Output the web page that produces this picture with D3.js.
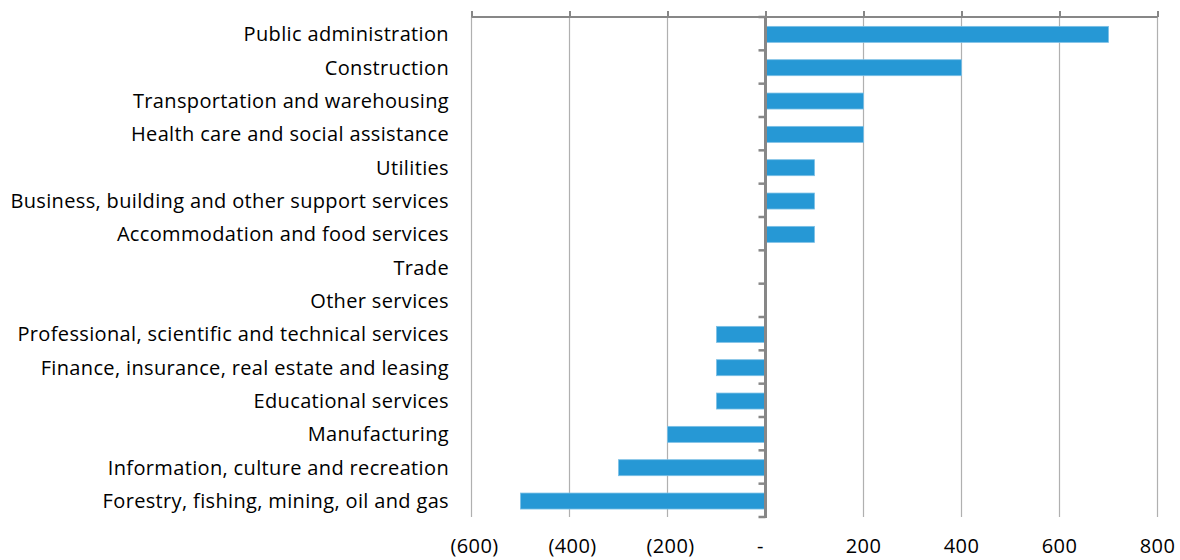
<!DOCTYPE html>
<html><head><meta charset="utf-8">
<script src="https://cdn.jsdelivr.net/npm/d3@7"></script>
<style>
html,body{margin:0;padding:0;background:#fff;}
svg{display:block;}
text{font-family:"Open Sans",Lato,sans-serif;fill:#000;letter-spacing:0.35px;}
</style></head>
<body><svg id="c" width="1180" height="560"></svg>
<script>
const categories = [
  "Public administration",
  "Construction",
  "Transportation and warehousing",
  "Health care and social assistance",
  "Utilities",
  "Business, building and other support services",
  "Accommodation and food services",
  "Trade",
  "Other services",
  "Professional, scientific and technical services",
  "Finance, insurance, real estate and leasing",
  "Educational services",
  "Manufacturing",
  "Information, culture and recreation",
  "Forestry, fishing, mining, oil and gas"
];
const values = [700, 400, 200, 200, 100, 100, 100, 0, 0, -100, -100, -100, -200, -300, -500];
const tickValues = [-600, -400, -200, 0, 200, 400, 600, 800];
const tickLabels = ["(600)", "(400)", "(200)", "-", "200", "400", "600", "800"];

const svg = d3.select("#c");
const x = d3.scaleLinear().domain([-600, 800]).range([471.5, 1157.5]);
const y = d3.scaleBand().domain(categories).range([17, 517]).paddingInner(0.52).paddingOuter(0.26);
const fontSize = 20;

// gridlines
svg.append("g").selectAll("line").data(tickValues.filter(d => d !== 0)).join("line")
  .attr("x1", d => x(d)).attr("x2", d => x(d))
  .attr("y1", 17).attr("y2", 517)
  .attr("stroke", "#b0b0b0").attr("stroke-width", 1.2);

// top value axis
const topAxis = d3.axisTop(x).tickValues(tickValues).tickSize(6).tickFormat("");
const gt = svg.append("g").attr("transform", "translate(0,17)").call(topAxis);
gt.select(".domain").attr("stroke", "#878787").attr("stroke-width", 2).attr("d", `M${x(-600)},0H${x(800)}`);
gt.selectAll(".tick line").attr("stroke", "#878787").attr("stroke-width", 2);

// bottom tick labels
const labelShift = v => v < 0 ? 3 : (v === 0 ? -5 : 0);
svg.append("g").selectAll("text").data(tickValues).join("text")
  .attr("x", d => x(d) + labelShift(d)).attr("y", 553)
  .attr("text-anchor", "middle").attr("font-size", fontSize)
  .text((d, i) => tickLabels[i]);

// bars
svg.append("g").selectAll("rect").data(values).join("rect")
  .attr("x", d => x(Math.min(0, d)))
  .attr("width", d => Math.abs(x(d) - x(0)))
  .attr("y", (d, i) => y(categories[i]) + 0.7)
  .attr("height", y.bandwidth())
  .attr("fill", "#2698d5")
  .attr("stroke", "#7cc0e6").attr("stroke-width", d => d === 0 ? 0 : 0.8);

// category axis at zero
const boundaries = d3.range(categories.length + 1).map(i => 17 + i * y.step());
const ga = svg.append("g");
ga.selectAll("line.t").data(boundaries).join("line").attr("class", "t")
  .attr("x1", x(0) - 7).attr("x2", x(0)).attr("y1", d => d).attr("y2", d => d)
  .attr("stroke", "#878787").attr("stroke-width", 2.5);
ga.append("line").attr("x1", x(0)).attr("x2", x(0)).attr("y1", 16).attr("y2", 518)
  .attr("stroke", "#878787").attr("stroke-width", 3);

// category labels
svg.append("g").selectAll("text").data(categories).join("text")
  .attr("x", 449).attr("y", d => y(d) + y.bandwidth() / 2 + 0.7)
  .attr("dy", "0.35em").attr("text-anchor", "end").attr("font-size", fontSize)
  .text(d => d);
</script></body></html>
